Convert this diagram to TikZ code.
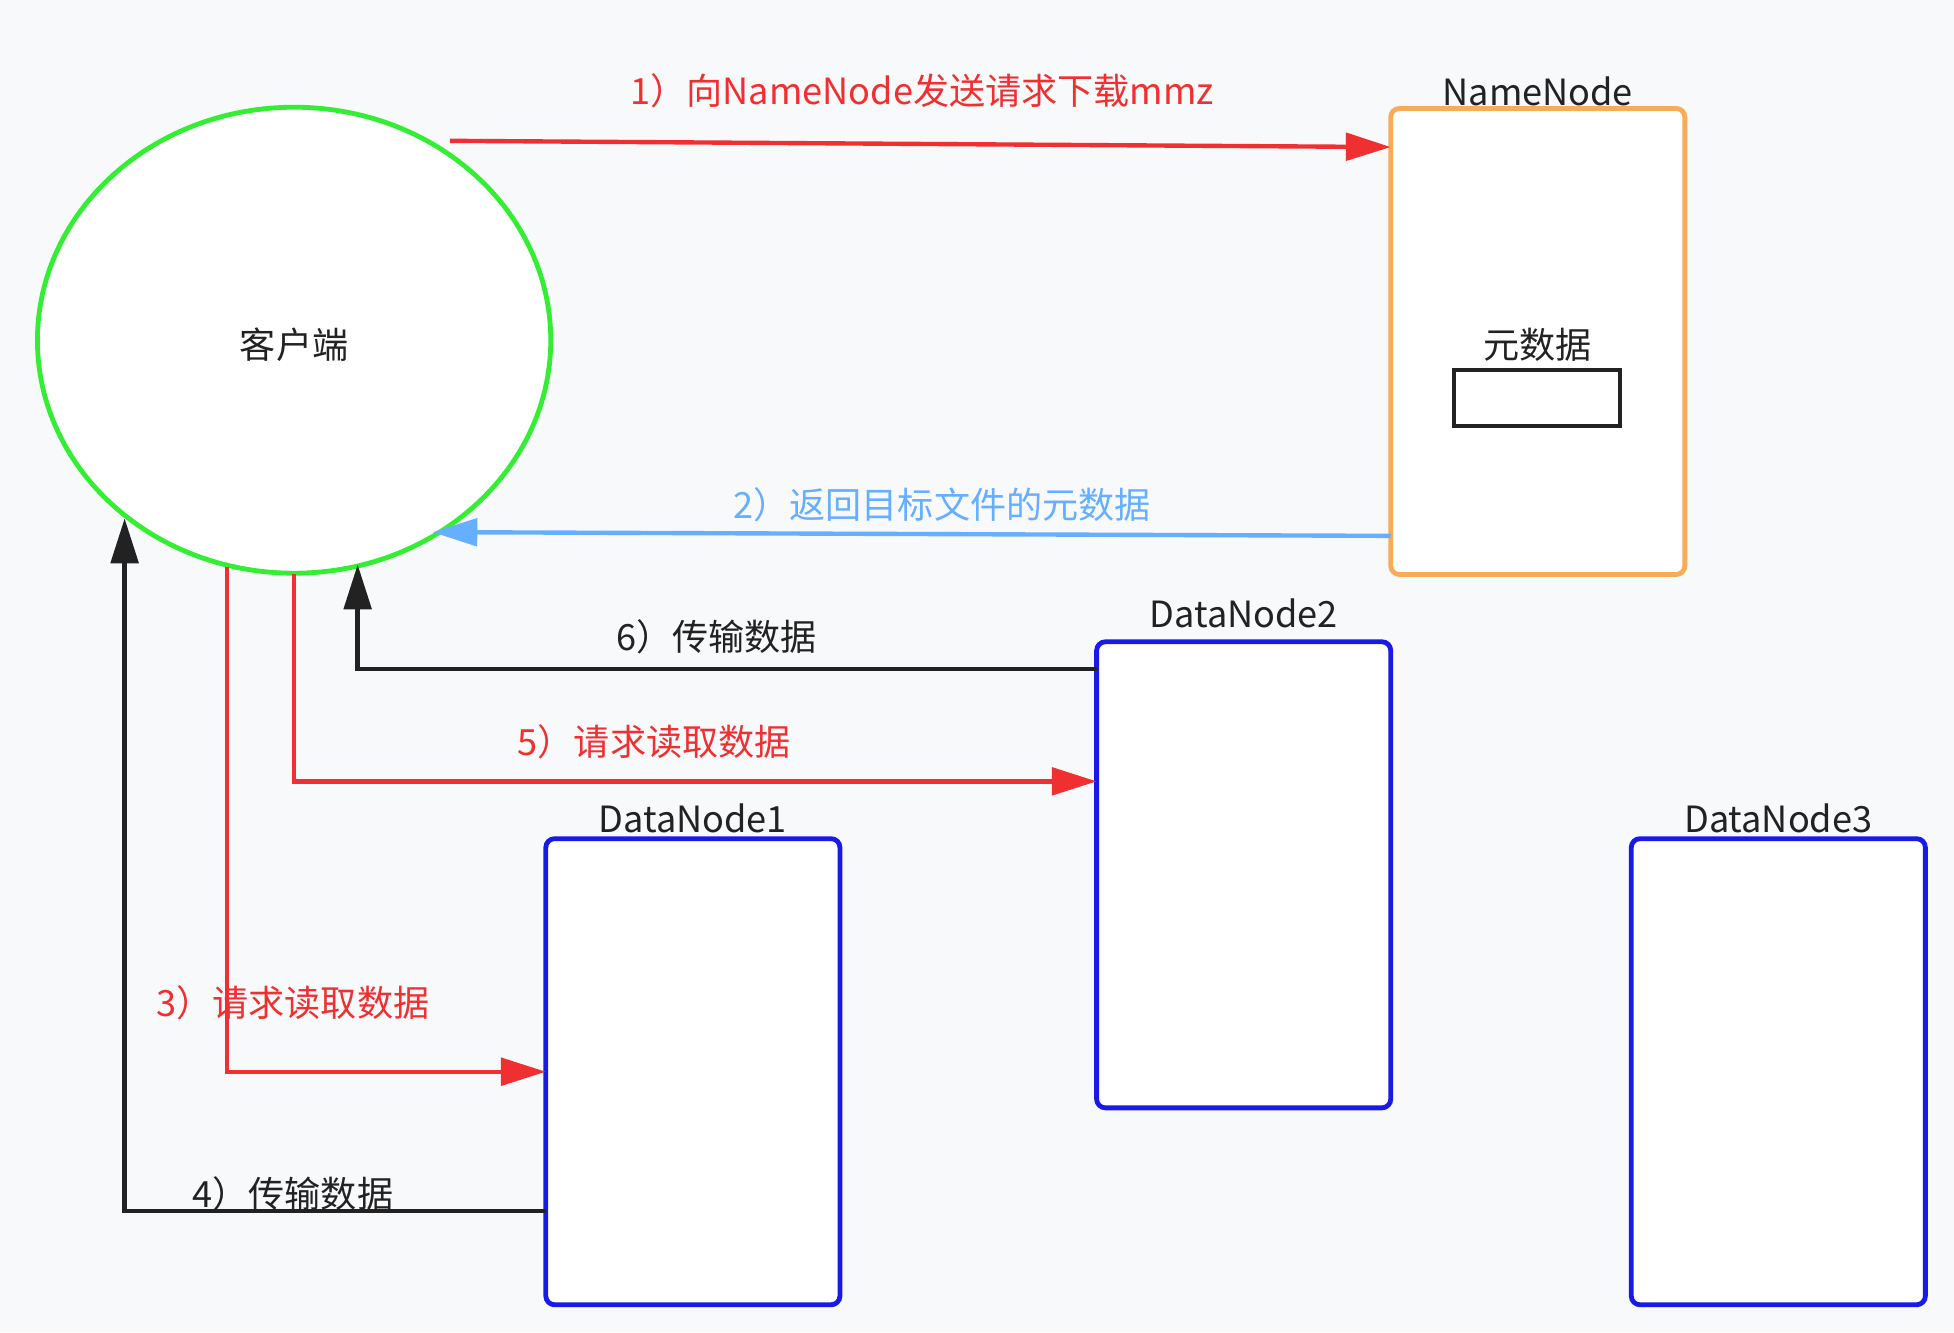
\documentclass[tikz,border=0pt]{standalone}
\usepackage{fontspec}
\setmainfont{Noto Sans CJK SC}
\usetikzlibrary{arrows.meta,shapes.geometric}
\definecolor{bg}{HTML}{F8F9FB}
\definecolor{grn}{HTML}{33EE33}
\definecolor{org}{HTML}{F8AC58}
\definecolor{blu}{HTML}{1A1AE6}
\definecolor{lbl}{HTML}{66AEFF}
\definecolor{rd}{HTML}{F03030}
\definecolor{dk}{HTML}{222222}
\begin{document}
\begin{tikzpicture}[x=0.02cm,y=-0.02cm,
  lab/.style={font=\fontsize{16.5}{19}\selectfont,inner sep=0pt},
  box/.style={draw=blu,line width=2.2pt,fill=white,rounded corners=4pt},
  conn/.style={line width=2pt,-{Triangle[length=0.72cm,width=0.44cm]}}]
\fill[bg] (0,0) rectangle (1568,1069);
\useasboundingbox (0,0) rectangle (1568,1069);
% client
\node[draw=grn,line width=2.2pt,fill=white,ellipse,minimum width=8.24cm,minimum height=7.48cm,inner sep=0pt] (cl) at (236,273) {};
\node[lab,text=dk] (clt) at (236,277) {客户端};
% NameNode
\draw[draw=org,line width=2.2pt,fill=white,rounded corners=4pt] (1116,87) rectangle (1352,461);
\coordinate (nnL1) at (1116,118);
\coordinate (nnL2) at (1116,430);
\node[lab,text=dk] (nnt) at (1234,73) {NameNode};
\node[lab,text=dk] (meta) at (1234,277) {元数据};
\draw[dk,line width=2pt] (1167,297) rectangle (1300,342);
% DataNodes
\draw[box] (880,515) rectangle (1116,889);
\draw[box] (438,673) rectangle (674,1047);
\draw[box] (1309,673) rectangle (1545,1047);
\node[lab,text=dk] (d2t) at (998,492) {DataNode2};
\node[lab,text=dk] (d1t) at (556,657) {DataNode1};
\node[lab,text=dk] (d3t) at (1427,657) {DataNode3};
\coordinate (d2a) at (880,537);
\coordinate (d2b) at (880,627);
\coordinate (d1a) at (438,860);
\coordinate (d1b) at (438,972);
% arrows
\coordinate (a1s) at (361,113);
\draw[conn,rd] (a1s) -- (nnL1);
\node[lab,text=rd] (l1) at (740,73) {1）向NameNode发送请求下载mmz};
\coordinate (a2e) at (347,427);
\draw[conn,lbl] (nnL2) -- (a2e);
\node[lab,text=lbl] (l2) at (756,405) {2）返回目标文件的元数据};
\coordinate (a6e) at (287,453);
\draw[conn,dk] (d2a) -| (a6e);
\node[lab,text=dk] (l6) at (575,511) {6）传输数据};
\coordinate (a5s) at (236,461);
\draw[conn,rd] (a5s) |- (d2b);
\node[lab,text=rd] (l5) at (525,595) {5）请求读取数据};
\coordinate (a3s) at (182,455);
\draw[conn,rd] (a3s) |- (d1a);
\node[lab,text=rd] (l3) at (235,805) {3）请求读取数据};
\coordinate (a4e) at (100,416);
\draw[conn,dk] (d1b) -| (a4e);
\node[lab,text=dk] (l4) at (235,958) {4）传输数据};
\end{tikzpicture}
\end{document}
